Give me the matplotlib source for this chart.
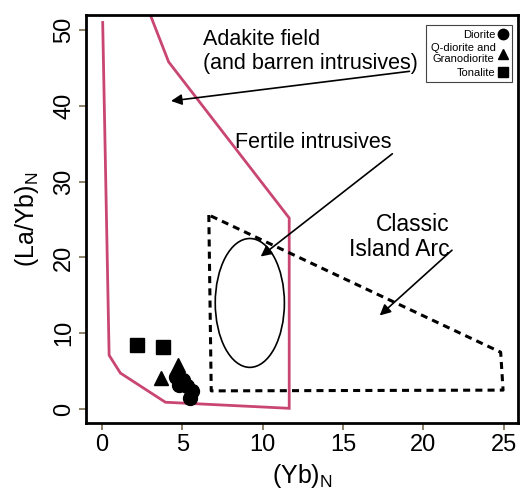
import numpy as np
import matplotlib.pyplot as plt
from matplotlib.patches import Ellipse
from matplotlib.lines import Line2D

plt.rcParams['font.family'] = ['Liberation Sans', 'DejaVu Sans']
plt.rcParams['mathtext.fontset'] = 'custom'
plt.rcParams['mathtext.rm'] = 'Liberation Sans'
plt.rcParams['mathtext.it'] = 'Liberation Sans:italic'

# field boundaries
adakiteX = [2.9, 4.15, 11.65, 11.65, 3.95, 1.15, 0.45, 0.05]
adakiteY = [52.6, 45.8, 25.2, 0.1, 0.9, 4.75, 7.1, 51.0]
arcX = [6.65, 6.8, 24.95, 24.8, 6.65]
arcY = [25.6, 2.4, 2.5, 7.5, 25.6]
fertileCenter = (9.2, 14.0)
fertileWidth = 4.3
fertileHeight = 17.0

# samples
dioriteX = [4.6, 4.8, 5.05, 5.3, 5.6, 5.5]
dioriteY = [4.2, 3.2, 3.8, 3.0, 2.4, 1.5]
granoX = [3.7, 4.75]
granoY = [4.1, 5.8]
tonaliteX = [2.2, 3.83]
tonaliteY = [8.4, 8.2]

xticks = [0, 5, 10, 15, 20, 25]
yticks = [0, 10, 20, 30, 40, 50]

fig = plt.figure(figsize=(5.22, 4.96), dpi=100)
ax = fig.add_axes([0.165, 0.147, 0.828, 0.823])

ax.plot(adakiteX, adakiteY, color='#c94672', lw=2.0, solid_joinstyle='miter')
ax.plot(arcX, arcY, color='black', lw=2.2, dashes=(2.3, 1.7))
ax.add_patch(Ellipse(fertileCenter, fertileWidth, fertileHeight, fill=False, ec='black', lw=1.2))

ax.plot(dioriteX, dioriteY, 'o', color='black', ms=10, ls='none')
ax.plot(granoX, granoY, '^', color='black', ms=10, ls='none')
ax.plot(tonaliteX, tonaliteY, 's', color='black', ms=9.5, ls='none')

arrowStyle = dict(arrowstyle='-|>', color='black', lw=1.2, mutation_scale=16)
ax.annotate('', xy=(4.13, 40.6), xytext=(19.3, 44.6), arrowprops=arrowStyle)
ax.annotate('', xy=(9.74, 19.9), xytext=(18.2, 33.9), arrowprops=arrowStyle)
ax.annotate('', xy=(17.15, 12.1), xytext=(21.9, 21.2), arrowprops=arrowStyle)

ax.text(6.3, 47.2, 'Adakite field\n(and barren intrusives)', fontsize=15.5,
        ha='left', va='center', linespacing=1.2)
ax.text(8.3, 35.1, 'Fertile intrusives', fontsize=15.5, ha='left', va='center')
ax.text(21.6, 22.7, 'Classic\nIsland Arc', fontsize=16.5, ha='right', va='center',
        multialignment='right', linespacing=1.15)

handles = [
  Line2D([], [], marker='o', color='black', ls='none', ms=7.5),
  Line2D([], [], marker='^', color='black', ls='none', ms=7.5),
  Line2D([], [], marker='s', color='black', ls='none', ms=7),
]
labels = ['Diorite', 'Q-diorite and\nGranodiorite', 'Tonalite']
leg = ax.legend(handles, labels, loc='upper right', bbox_to_anchor=(0.986, 0.975),
                borderaxespad=0, markerfirst=False, fontsize=8, fancybox=False,
                edgecolor='#444444', handlelength=0.8, handletextpad=0.3,
                labelspacing=0.3, borderpad=0.4, framealpha=1)
leg.get_frame().set_linewidth(0.8)
for t in leg.get_texts():
  t.set_multialignment('center')

ax.set_xlim(-0.98, 25.9)
ax.set_ylim(-1.85, 52.0)
ax.set_xticks(xticks)
ax.set_yticks(yticks)
ax.tick_params(direction='out', length=5, width=1.2, color='#7a6a50',
               labelsize=17, pad=3)
for lab in ax.get_yticklabels():
  lab.set_rotation(90)
  lab.set_va('center')
for s in ax.spines.values():
  s.set_linewidth(2.0)

ax.set_xlabel('(Yb)$_\\mathrm{N}$', fontsize=18, labelpad=4)
ax.set_ylabel('(La/Yb)$_\\mathrm{N}$', fontsize=18, labelpad=9)

fig.savefig('out.png', dpi=100)
